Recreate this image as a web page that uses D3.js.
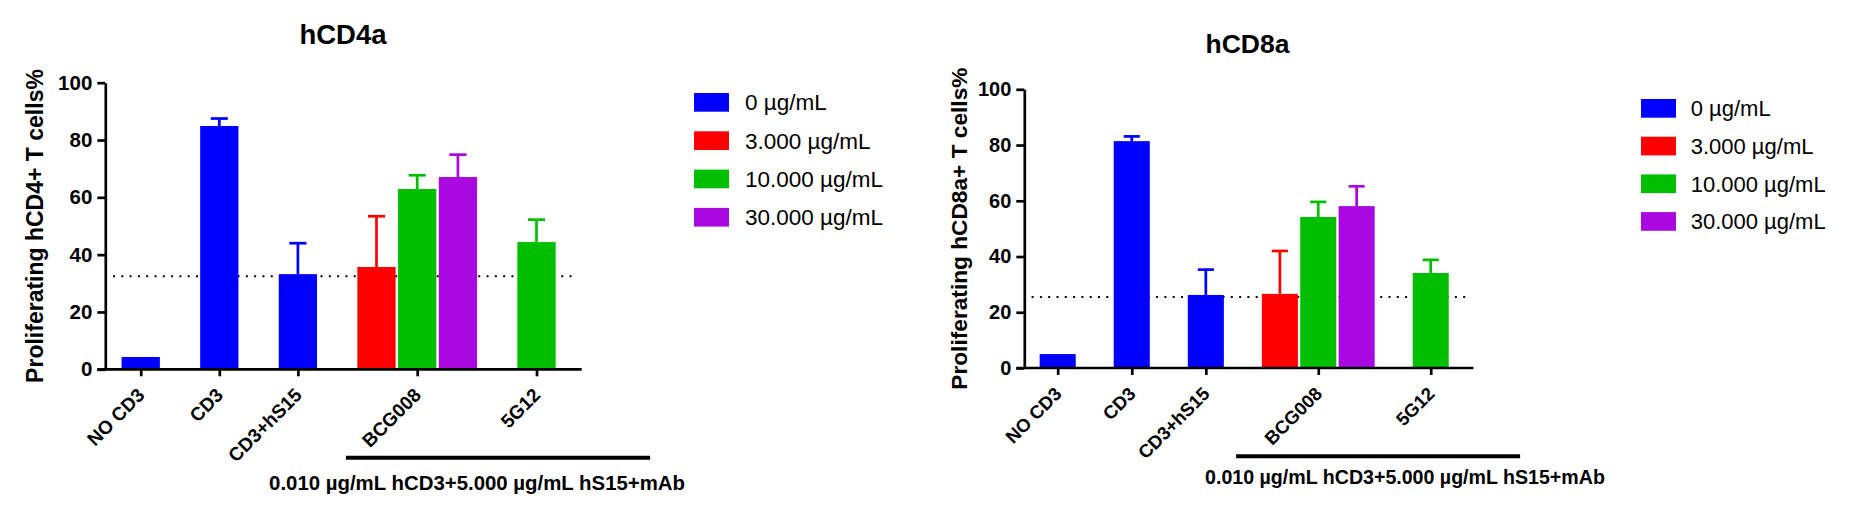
<!DOCTYPE html>
<html>
<head>
<meta charset="utf-8">
<script src="https://cdn.jsdelivr.net/npm/d3@7"></script>
<style>
  body { margin: 0; background: #fff; }
  text { font-family: "Liberation Sans", Arial, sans-serif; }
</style>
</head>
<body>
<svg id="chart" width="1851" height="517"></svg>
<script>
// ---- data ----
var categories = ["NO CD3", "CD3", "CD3+hS15", "BCG008", "5G12"];
var seriesNames = ["0 µg/mL", "3.000 µg/mL", "10.000 µg/mL", "30.000 µg/mL"];
var yTicks = [0, 20, 40, 60, 80, 100];
var bracketNote = "0.010 µg/mL hCD3+5.000 µg/mL hS15+mAb";

// hCD4a means / SD (upper error only)
var cd4_0  = [4.3, 84.9, 33.2, null, null];
var cd4_3  = [null, null, null, 35.7, null];
var cd4_10 = [null, null, null, 62.9, 44.4];
var cd4_30 = [null, null, null, 67.1, null];
var cd4_0sd  = [0, 2.6, 10.8, null, null];
var cd4_3sd  = [null, null, null, 17.7, null];
var cd4_10sd = [null, null, null, 4.8, 7.8];
var cd4_30sd = [null, null, null, 7.8, null];
var cd4Ref = 32.5;

// hCD8a means / SD
var cd8_0  = [5.0, 81.4, 26.2, null, null];
var cd8_3  = [null, null, null, 26.6, null];
var cd8_10 = [null, null, null, 54.2, 34.1];
var cd8_30 = [null, null, null, 58.1, null];
var cd8_0sd  = [0, 1.7, 9.1, null, null];
var cd8_3sd  = [null, null, null, 15.4, null];
var cd8_10sd = [null, null, null, 5.4, 4.7];
var cd8_30sd = [null, null, null, 7.1, null];
var cd8Ref = 25.5;

var colors = ["#0000ff", "#ff0000", "#00be00", "#aa08e0"];

// slot layout (in bar units)
var lead = 0.4, gap = 0.93, trail = 0.58, barFrac = 0.94, capFrac = 0.42;

var svg = d3.select("#chart");

function drawPanel(p) {
  var g = svg.append("g");

  // lay the bars out: contiguous within a category, gap between categories
  var bars = [], centers = [], u = lead;
  categories.forEach(function(c, ci) {
    var present = [];
    p.means.forEach(function(m, si) {
      if (m[ci] !== null) present.push({si: si, v: m[ci], e: p.errs[si][ci]});
    });
    var start = u;
    present.forEach(function(d, k) { d.u = start + k; bars.push(d); });
    centers.push(start + (present.length - 1 + barFrac) / 2);
    u = start + present.length + gap;
  });
  var total = u - gap + trail;

  var x = d3.scaleLinear().domain([0, total]).range([p.x0, p.x1]);
  var y = d3.scaleLinear().domain([0, 100]).range([p.yBottom, p.yTop]);
  var unit = x(1) - x(0);

  // dotted reference line
  g.append("line")
      .attr("x1", x(0.19)).attr("x2", x(total - 0.1))
      .attr("y1", y(p.ref)).attr("y2", y(p.ref))
      .attr("stroke", "#000")
      .attr("stroke-width", 2)
      .attr("stroke-dasharray", "2 6.3");

  g.selectAll(".bar")
    .data(bars)
    .enter().append("rect")
      .attr("x", function(d) { return x(d.u); })
      .attr("width", unit * barFrac)
      .attr("y", function(d) { return y(d.v); })
      .attr("height", function(d) { return y(0) - y(d.v); })
      .attr("fill", function(d) { return colors[d.si]; });

  var eb = g.selectAll(".err")
    .data(bars.filter(function(d) { return d.e > 0; }))
    .enter().append("g")
      .attr("stroke", function(d) { return colors[d.si]; })
      .attr("stroke-width", 2.7);
  eb.append("line")
      .attr("x1", function(d) { return x(d.u) + unit * barFrac / 2; })
      .attr("x2", function(d) { return x(d.u) + unit * barFrac / 2; })
      .attr("y1", function(d) { return y(d.v); })
      .attr("y2", function(d) { return y(d.v + d.e); });
  eb.append("line")
      .attr("x1", function(d) { return x(d.u) + unit * (barFrac - capFrac) / 2; })
      .attr("x2", function(d) { return x(d.u) + unit * (barFrac + capFrac) / 2; })
      .attr("y1", function(d) { return y(d.v + d.e); })
      .attr("y2", function(d) { return y(d.v + d.e); });

  // y axis
  var ya = g.append("g")
      .attr("transform", "translate(" + p.x0 + ",0)")
      .call(d3.axisLeft(y).tickValues(yTicks).tickSize(8).tickSizeOuter(0).tickPadding(5));
  ya.attr("font-size", p.tickSize).attr("font-weight", "bold")
    .attr("font-family", '"Liberation Sans", Arial, sans-serif');
  ya.selectAll("path, line").attr("stroke", "#000").attr("stroke-width", 2.7);
  ya.selectAll("text").attr("fill", "#000");

  // x axis: tick marks from d3, rotated labels appended separately
  var xa = g.append("g")
      .attr("transform", "translate(0," + p.yBottom + ")")
      .call(d3.axisBottom(x).tickValues(centers).tickSize(7).tickSizeOuter(0)
        .tickFormat(""));
  xa.select(".domain").remove();
  xa.selectAll("line").attr("stroke", "#000").attr("stroke-width", 2.7);
  g.selectAll(".xlab")
    .data(categories)
    .enter().append("text")
      .attr("text-anchor", "end")
      .attr("font-size", p.labelSize).attr("font-weight", "bold")
      .attr("transform", function(d, i) {
        return "translate(" + (x(centers[i]) + 5) + "," + (p.yBottom + 27) + ") rotate(-45)";
      })
      .text(function(d) { return d; });
  g.append("line")
      .attr("x1", p.x0 - 8).attr("x2", x(total))
      .attr("y1", p.yBottom).attr("y2", p.yBottom)
      .attr("stroke", "#000").attr("stroke-width", 2.7);

  // bracket under the mAb groups
  g.append("line")
      .attr("x1", x(p.bracketFrom)).attr("x2", x(p.bracketTo))
      .attr("y1", p.bracketY).attr("y2", p.bracketY)
      .attr("stroke", "#000").attr("stroke-width", 4);
  g.append("text")
      .attr("x", x(p.noteAt)).attr("y", p.noteY)
      .attr("text-anchor", "middle")
      .attr("font-size", p.noteSize).attr("font-weight", "bold")
      .text(bracketNote);

  // titles
  g.append("text")
      .attr("x", p.titleX).attr("y", p.titleY)
      .attr("text-anchor", "middle")
      .attr("font-size", p.titleSize).attr("font-weight", "bold")
      .text(p.title);
  g.append("text")
      .attr("transform", "translate(" + p.yTitleX + "," + (y(0) + y(100)) / 2 + ") rotate(-90)")
      .attr("text-anchor", "middle")
      .attr("font-size", p.yTitleSize).attr("font-weight", "bold")
      .text(p.yLabel);

  // legend
  var lg = g.selectAll(".leg")
    .data(seriesNames)
    .enter().append("g")
      .attr("transform", function(d, i) { return "translate(0," + (p.legendY + i * p.legendStep) + ")"; });
  lg.append("rect")
      .attr("x", p.legendX).attr("width", 35).attr("height", 18.7)
      .attr("fill", function(d, i) { return colors[i]; });
  lg.append("text")
      .attr("x", p.legendTextX).attr("y", 9.35 + p.legendSize * 0.36)
      .attr("font-size", p.legendSize)
      .text(function(d) { return d; });
}

drawPanel({
  title: "hCD4a", yLabel: "Proliferating hCD4+ T cells%",
  means: [cd4_0, cd4_3, cd4_10, cd4_30],
  errs: [cd4_0sd, cd4_3sd, cd4_10sd, cd4_30sd],
  ref: cd4Ref,
  x0: 105.3, x1: 581.7, yBottom: 369.3, yTop: 82.7,
  titleX: 343, titleY: 44.3, titleSize: 27.5,
  yTitleX: 43.3, yTitleSize: 23,
  tickSize: 20.5, labelSize: 19,
  legendX: 694, legendY: 93, legendStep: 38.3, legendTextX: 745, legendSize: 22.5,
  bracketFrom: 5.91, bracketTo: 13.38, bracketY: 457.7,
  noteAt: 9.13, noteY: 490, noteSize: 20.4
});

drawPanel({
  title: "hCD8a", yLabel: "Proliferating hCD8a+ T cells%",
  means: [cd8_0, cd8_3, cd8_10, cd8_30],
  errs: [cd8_0sd, cd8_3sd, cd8_10sd, cd8_30sd],
  ref: cd8Ref,
  x0: 1024.3, x1: 1473.3, yBottom: 368, yTop: 89.3,
  titleX: 1247.5, titleY: 52.7, titleSize: 26.5,
  yTitleX: 966.7, yTitleSize: 22.7,
  tickSize: 20, labelSize: 18.5,
  legendX: 1641, legendY: 99, legendStep: 37.7, legendTextX: 1690.7, legendSize: 22,
  bracketFrom: 5.52, bracketTo: 12.92, bracketY: 456.3,
  noteAt: 9.92, noteY: 483.7, noteSize: 19.6
});
</script>
</body>
</html>
